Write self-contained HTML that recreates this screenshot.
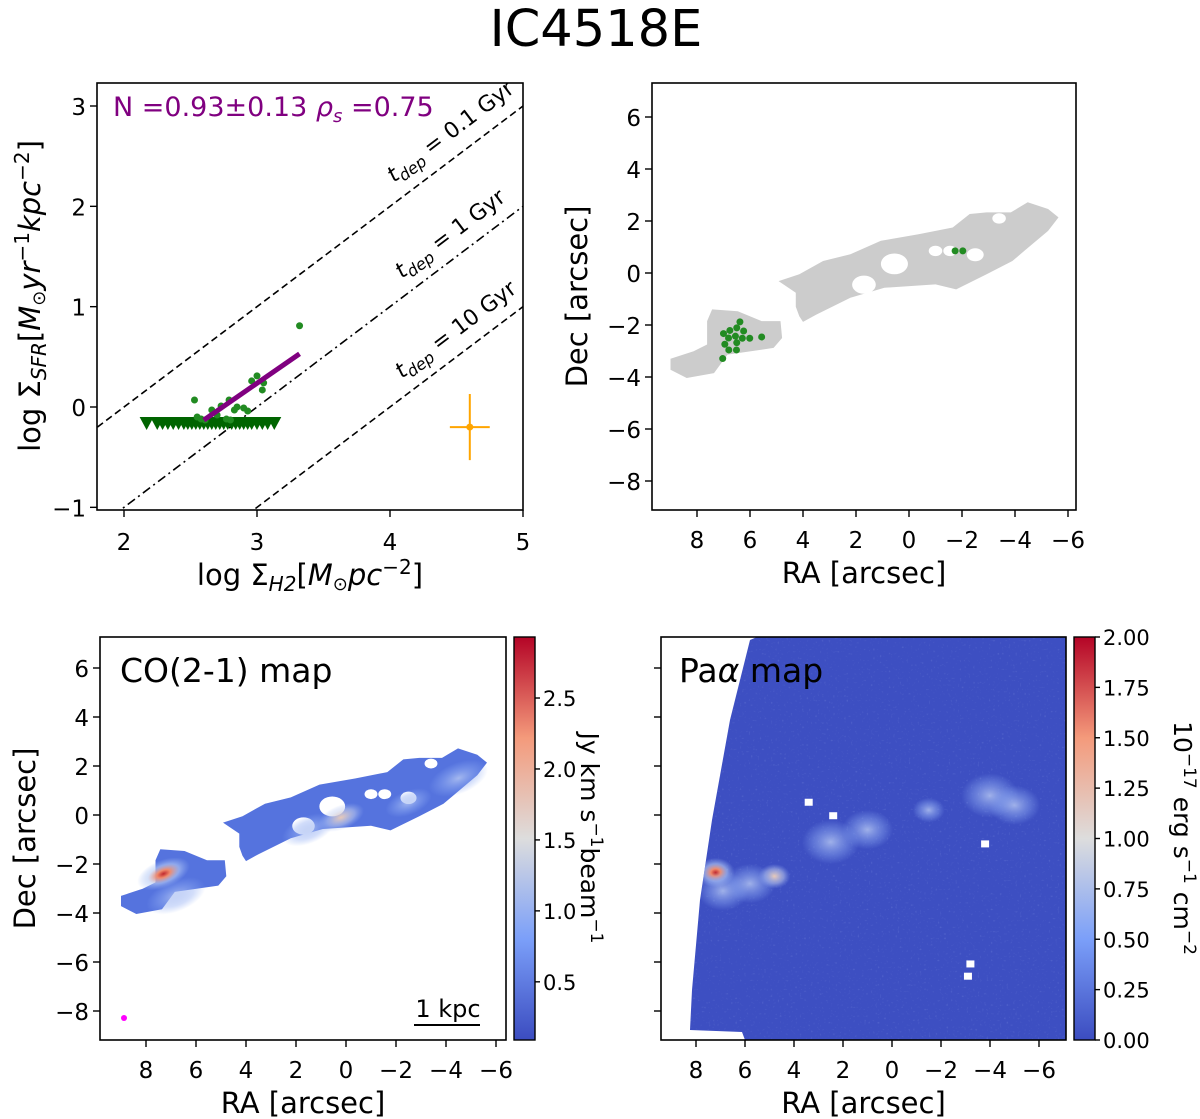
<!DOCTYPE html>
<html><head><meta charset="utf-8"><style>
html,body{margin:0;padding:0;background:#fff;}
svg{display:block;font-family:"DejaVu Sans","Liberation Sans",sans-serif;}
</style></head><body>
<svg id="fig" width="1200" height="1119" viewBox="0 0 1200 1119" xmlns="http://www.w3.org/2000/svg">
<defs>
<linearGradient id="cw" x1="0" y1="1" x2="0" y2="0">
<stop offset="0" stop-color="#3b4cc0"/><stop offset="0.25" stop-color="#7b9ff9"/><stop offset="0.5" stop-color="#dddddd"/><stop offset="0.75" stop-color="#f49a7b"/><stop offset="1" stop-color="#b40426"/>
</linearGradient>
<radialGradient id="hotspot"><stop offset="0" stop-color="#c0282d"/><stop offset="0.25" stop-color="#f08a6c"/><stop offset="0.6" stop-color="#b9cdf5" stop-opacity="0.6"/><stop offset="1" stop-color="#9bb7f5" stop-opacity="0"/></radialGradient>
<radialGradient id="light"><stop offset="0" stop-color="#b8c9f3" stop-opacity="0.8"/><stop offset="0.6" stop-color="#90acf3" stop-opacity="0.4"/><stop offset="1" stop-color="#8aa9f3" stop-opacity="0"/></radialGradient>
<radialGradient id="peach"><stop offset="0" stop-color="#e8c9b8"/><stop offset="0.6" stop-color="#c9d3ee" stop-opacity="0.5"/><stop offset="1" stop-color="#9bb4f3" stop-opacity="0"/></radialGradient>
<filter id="noise" x="0" y="0" width="100%" height="100%">
<feTurbulence type="fractalNoise" baseFrequency="0.45" numOctaves="1" seed="3" result="t"/>
<feColorMatrix type="matrix" values="0 0 0 0 0.5  0 0 0 0 0.6  0 0 0 0 0.95  0 0 0 1.2 -0.75" in="t"/>
</filter>
<clipPath id="clipKS"><rect x="97" y="83" width="426" height="427"/></clipPath>
<clipPath id="clipPa"><polygon points="757,637 1066,637 1066,1040 745,1040 742,1032 690,1030 692,990 700,900 712,820 730,720 750,640"/></clipPath>
</defs>
<text x="596" y="46" font-size="51" text-anchor="middle">IC4518E</text>
<g id="g1"></g>
<g id="g2"></g>
<g id="g3"></g>
<g id="g4"></g>
</svg>
<script>
// ---------- data ----------
const ksDetX = [3.32,2.53,3.00,2.96,3.05,3.04,2.79,2.73,2.66,2.83,2.90,2.93,2.55,2.77,2.61,2.85,2.70,2.58,2.80];
const ksDetY = [0.81,0.07,0.31,0.26,0.24,0.17,0.07,0.01,-0.03,-0.03,-0.01,-0.04,-0.10,-0.12,-0.13,0.00,-0.08,-0.12,-0.13];
const ksLimX = [2.17,2.25,2.29,2.33,2.37,2.41,2.45,2.48,2.51,2.54,2.57,2.60,2.63,2.66,2.69,2.72,2.75,2.78,2.81,2.84,2.87,2.90,2.93,2.96,3.00,3.04,3.08,3.13];
const ksLimY = -0.17;
const fitX = [2.6, 3.32];
const fitY = [-0.13, 0.53];
const tdepLabels = ["0.1 Gyr","1 Gyr","10 Gyr"];
const tdepOffsets = [-2, -3, -4];
const errPoint = [4.6, -0.2];
const errX = 0.15, errY = 0.33;
const ksXTicks = [2,3,4,5];
const ksYTicks = [-1,0,1,2,3];
const mapRaTicks = [8,6,4,2,0,-2,-4,-6];
const mapDecTicks = [6,4,2,0,-2,-4,-6,-8];
const pixRA = [6.38,7.0,6.76,6.5,6.24,6.81,6.55,6.29,6.01,5.56,6.95,6.5,6.8,6.51,7.03,-1.74,-2.03];
const pixDec = [-1.88,-2.33,-2.21,-2.11,-2.23,-2.5,-2.43,-2.51,-2.51,-2.46,-2.74,-2.68,-2.96,-2.96,-3.29,0.85,0.85];
const clumpRA = [9.0,9.0,8.39,7.36,6.85,5.11,4.79,4.85,5.56,6.46,7.43,7.62,7.62,8.13];
const clumpDec = [-3.3,-3.72,-4.04,-3.85,-3.14,-2.88,-2.5,-1.85,-1.85,-1.47,-1.4,-1.85,-2.75,-3.01];
const stripRA = [4.14,4.0,3.5,2.21,0.93,-1.0,-1.78,-2.93,-3.9,-4.35,-5.25,-5.64,-5.25,-4.48,-3.84,-2.93,-2.29,-1.65,-0.36,1.06,2.21,3.24,4.14,4.92,4.27,4.27];
const stripDec = [-1.66,-1.88,-1.6,-0.95,-0.57,-0.44,-0.63,-0.05,0.46,0.85,1.62,2.14,2.46,2.72,2.33,2.33,2.27,1.75,1.49,1.24,0.72,0.46,-0.05,-0.31,-0.76,-1.3];
const holeRA = [1.7,0.55,-1.0,-1.55,-3.4,-2.5];
const holeDec = [-0.45,0.35,0.85,0.85,2.1,0.7];
const holeR = [0.35,0.4,0.2,0.2,0.2,0.25];
const coSpotRA = [7.3,0.2,-4.5,1.5,-2.5,6.8];
const coSpotDec = [-2.4,-0.1,1.5,-0.6,0.5,-3.3];
const coSpotR = [0.8,0.7,0.9,0.8,0.7,0.9];
const coSpotKind = ["hotspot","peach","light","light","light","light"];
const coCbTicks = [0.5,1.0,1.5,2.0,2.5];
const coCbMin = 0.09, coCbMax = 2.93;
const paSpotRA = [7.2,6.9,4.8,5.8,1.0,-1.5,-4.0,-5.0,2.5];
const paSpotDec = [-2.35,-3.1,-2.5,-2.8,-0.6,0.2,0.8,0.4,-1.1];
const paSpotR = [0.6,0.8,0.5,0.8,0.8,0.5,0.9,0.8,0.9];
const paSpotKind = ["hotspot","light","peach","light","light","light","light","light","light"];
const paHoleRA = [3.4,2.4,-3.8,-3.2,-3.1];
const paHoleDec = [0.5,-0.05,-1.2,-6.1,-6.6];
const paCbTicks = [0.00,0.25,0.50,0.75,1.00,1.25,1.50,1.75,2.00];

// ---------- helpers ----------
const NS = "http://www.w3.org/2000/svg";
const TICK = 23, TITLE = 29;
function mk(parent, tag, attrs, text){
  const el = document.createElementNS(NS, tag);
  for (const k in attrs) el.setAttribute(k, attrs[k]);
  if (text !== undefined) el.textContent = text;
  parent.appendChild(el);
  return el;
}
function lin(d0,d1,p0,p1){ return v => p0 + (v-d0)*(p1-p0)/(d1-d0); }

// ---------- panel 1: KS ----------
const g1 = document.getElementById('g1');
const kx = lin(2,5,124,523), ky = lin(0,3,407,106);
const clipG = mk(g1,'g',{'clip-path':'url(#clipKS)'});


tdepOffsets.forEach((off,i)=>{
  const l = mk(clipG,'line',{x1:kx(1.8),y1:ky(1.8+off),x2:kx(5),y2:ky(5+off),stroke:'#000','stroke-width':1.6,'stroke-dasharray': i===1 ? '9,4,2,4' : '7,4'});
  
  
});
const ang = -Math.atan((ky(0)-ky(1))/(kx(1)-kx(0)))*180/Math.PI;
const lblPos = [[394,183],[402,279],[402,379]];
tdepLabels.forEach((t,i)=>{
  const tx = mk(clipG,'text',{x:lblPos[i][0],y:lblPos[i][1],'font-size':22,transform:`rotate(${ang} ${lblPos[i][0]} ${lblPos[i][1]})`});
  
  
  mk(tx,'tspan',{'font-style':'italic'},'t');
  mk(tx,'tspan',{'font-style':'italic','font-size':16,dy:5},'dep');
  mk(tx,'tspan',{dy:-5},' = '+t);
});
ksLimX.forEach(x=>{
  const X = kx(x), Y = ky(ksLimY);
  const p = mk(clipG,'path',{d:`M${X-7},${Y-7}L${X+7},${Y-7}L${X},${Y+6}Z`,fill:'#006400'});
  
  
});
ksDetX.forEach((x,i)=>{
  const c = mk(clipG,'circle',{cx:kx(x),cy:ky(ksDetY[i]),r:3.5,fill:'#228b22'});
  
  
});
const fit = mk(clipG,'line',{x1:kx(fitX[0]),y1:ky(fitY[0]),x2:kx(fitX[1]),y2:ky(fitY[1]),stroke:'#800080','stroke-width':5});


const eb = mk(clipG,'g',{stroke:'#ffa500','stroke-width':2});


mk(eb,'line',{x1:kx(errPoint[0]-errX),y1:ky(errPoint[1]),x2:kx(errPoint[0]+errX),y2:ky(errPoint[1])});
mk(eb,'line',{x1:kx(errPoint[0]),y1:ky(errPoint[1]-errY),x2:kx(errPoint[0]),y2:ky(errPoint[1]+errY)});
mk(eb,'circle',{cx:kx(errPoint[0]),cy:ky(errPoint[1]),r:3.5,fill:'#ffa500',stroke:'none'});
const nt = mk(g1,'text',{x:113,y:116,'font-size':27,fill:'#800080'});


mk(nt,'tspan',{},'N =0.93±0.13 ');
mk(nt,'tspan',{'font-style':'italic'},'ρ');
mk(nt,'tspan',{'font-style':'italic','font-size':18,dy:6},'s');
mk(nt,'tspan',{dy:-6},' =0.75');
const f1 = mk(g1,'rect',{x:97,y:83,width:426,height:427,fill:'none',stroke:'#000','stroke-width':1.6});


ksXTicks.forEach(v=>{
  mk(g1,'line',{x1:kx(v),y1:510,x2:kx(v),y2:517,stroke:'#000','stroke-width':1.4});
  const t = mk(g1,'text',{x:kx(v),y:550,'font-size':TICK,'text-anchor':'middle'},String(v));
  
  
});
ksYTicks.forEach(v=>{
  mk(g1,'line',{x1:90,y1:ky(v),x2:97,y2:ky(v),stroke:'#000','stroke-width':1.4});
  const t = mk(g1,'text',{x:86,y:ky(v)+9,'font-size':TICK,'text-anchor':'end'},v<0?'−'+(-v):String(v));
  
  
});
const xl = mk(g1,'text',{x:310,y:585,'font-size':TITLE,'text-anchor':'middle'});


mk(xl,'tspan',{},'log Σ');
mk(xl,'tspan',{'font-style':'italic','font-size':20,dy:6},'H2');
mk(xl,'tspan',{dy:-6},'[');
mk(xl,'tspan',{'font-style':'italic'},'M');
mk(xl,'tspan',{'font-size':18,dy:5},'⊙');
mk(xl,'tspan',{'font-style':'italic',dy:-5},'pc');
mk(xl,'tspan',{'font-size':20,dy:-11},'−2');
mk(xl,'tspan',{dy:11},']');
const yl = mk(g1,'text',{x:0,y:0,'font-size':TITLE,'text-anchor':'middle',transform:'translate(40 296) rotate(-90)'});


mk(yl,'tspan',{},'log Σ');
mk(yl,'tspan',{'font-style':'italic','font-size':20,dy:6},'SFR');
mk(yl,'tspan',{dy:-6},'[');
mk(yl,'tspan',{'font-style':'italic'},'M');
mk(yl,'tspan',{'font-size':18,dy:5},'⊙');
mk(yl,'tspan',{'font-style':'italic',dy:-5},'yr');
mk(yl,'tspan',{'font-size':20,dy:-11},'−1');
mk(yl,'tspan',{'font-style':'italic',dy:11},'kpc');
mk(yl,'tspan',{'font-size':20,dy:-11},'−2');
mk(yl,'tspan',{dy:11},']');

// ---------- map axes helper ----------
function mapAxes(g, L, T, W, H, ax, ay, showY, name){
  const f = mk(g,'rect',{x:L,y:T,width:W,height:H,fill:'none',stroke:'#000','stroke-width':1.6});
  
  
  mapRaTicks.forEach(v=>{
    mk(g,'line',{x1:ax(v),y1:T+H,x2:ax(v),y2:T+H+7,stroke:'#000','stroke-width':1.4});
    const t = mk(g,'text',{x:ax(v),y:T+H+38,'font-size':TICK,'text-anchor':'middle'},v<0?'−'+(-v):String(v));
    
    
  });
  mapDecTicks.forEach(v=>{
    mk(g,'line',{x1:L-7,y1:ay(v),x2:L,y2:ay(v),stroke:'#000','stroke-width':1.4});
    if(showY){
      const t = mk(g,'text',{x:L-11,y:ay(v)+9,'font-size':TICK,'text-anchor':'end'},v<0?'−'+(-v):String(v));
      
      
    }
  });
  const xt = mk(g,'text',{x:L+W/2,y:T+H+73,'font-size':TITLE,'text-anchor':'middle'},'RA [arcsec]');
  
  
  if(showY){
    const yt = mk(g,'text',{x:0,y:0,'font-size':TITLE,'text-anchor':'middle',transform:`translate(${L-65} ${T+H/2}) rotate(-90)`},'Dec [arcsec]');
    
    
  }
}
function poly(g, ax, ay, ra, dec, fill, name){
  const pts = ra.map((r,i)=>ax(r).toFixed(1)+','+ay(dec[i]).toFixed(1)).join(' ');
  const p = mk(g,'polygon',{points:pts,fill:fill});
  
  
}
function holes(g, ax, ay, scale){
  holeRA.forEach((r,i)=>{
    const e = mk(g,'ellipse',{cx:ax(r),cy:ay(holeDec[i]),rx:holeR[i]*scale*1.3,ry:holeR[i]*scale,fill:'#fff'});
    
    
  });
}

// ---------- panel 2: mask ----------
const g2 = document.getElementById('g2');
const mx = lin(0,-2,909,962), my = lin(0,2,273,221);
poly(g2,mx,my,clumpRA,clumpDec,'#cccccc','mask-clump');
poly(g2,mx,my,stripRA,stripDec,'#cccccc','mask-strip');
holes(g2,mx,my,26);
pixRA.forEach((r,i)=>{
  const c = mk(g2,'circle',{cx:mx(r),cy:my(pixDec[i]),r:3.5,fill:'#228b22'});
  
  
});
mapAxes(g2,652,83,424,427,mx,my,true,'mask');

// ---------- panel 3: CO ----------
const g3 = document.getElementById('g3');
const cx = lin(0,-2,346,396), cy = lin(0,2,815,766);
poly(g3,cx,cy,clumpRA,clumpDec,'#5573de','co-clump');
poly(g3,cx,cy,stripRA,stripDec,'#5573de','co-strip');
holes(g3,cx,cy,24.8);
coSpotRA.forEach((r,i)=>{
  const e = mk(g3,'ellipse',{cx:cx(r),cy:cy(coSpotDec[i]),rx:coSpotR[i]*24.8*1.4,ry:coSpotR[i]*24.8*0.7,fill:`url(#${coSpotKind[i]})`,transform:`rotate(-22 ${cx(r)} ${cy(coSpotDec[i])})`});
  
  
});
const ct = mk(g3,'text',{x:120,y:682,'font-size':33},'CO(2-1) map');


const sb = mk(g3,'text',{x:448,y:1017,'font-size':24,'text-anchor':'middle'},'1 kpc');


const sbl = mk(g3,'line',{x1:414,y1:1025,x2:480,y2:1025,stroke:'#000','stroke-width':2});


const beam = mk(g3,'circle',{cx:124,cy:1018,r:3,fill:'#ff00ff'});


mapAxes(g3,100,637,406,403,cx,cy,true,'co');
const cb1 = mk(g3,'rect',{x:514,y:637,width:21,height:403,fill:'url(#cw)',stroke:'#000','stroke-width':1.4});


const cb1y = lin(coCbMin,coCbMax,1040,637);
coCbTicks.forEach(v=>{
  mk(g3,'line',{x1:535,y1:cb1y(v),x2:540,y2:cb1y(v),stroke:'#000','stroke-width':1.4});
  const t = mk(g3,'text',{x:543,y:cb1y(v)+8,'font-size':21},v.toFixed(1));
  
  
});
const cbl1 = mk(g3,'text',{x:0,y:0,'font-size':25,'text-anchor':'middle',transform:'translate(581 838) rotate(90)'});


mk(cbl1,'tspan',{},'Jy km s');
mk(cbl1,'tspan',{'font-size':17,dy:-10},'−1');
mk(cbl1,'tspan',{dy:10},'beam');
mk(cbl1,'tspan',{'font-size':17,dy:-10},'−1');

// ---------- panel 4: Pa alpha ----------
const g4 = document.getElementById('g4');
const px = lin(0,-2,892,941), py = lin(0,2,815,766);
const pa = mk(g4,'g',{'clip-path':'url(#clipPa)'});


const bg = mk(pa,'rect',{x:661,y:637,width:405,height:403,fill:'#3d4fc2'});


const nz = mk(pa,'rect',{x:661,y:637,width:405,height:403,filter:'url(#noise)',opacity:0.6});


paSpotRA.forEach((r,i)=>{
  const e = mk(pa,'ellipse',{cx:px(r),cy:py(paSpotDec[i]),rx:paSpotR[i]*24.6*1.3,ry:paSpotR[i]*24.6,fill:`url(#${paSpotKind[i]})`});
  
  
});
paHoleRA.forEach((r,i)=>{
  const h = mk(pa,'rect',{x:px(r)-4,y:py(paHoleDec[i])-4,width:8,height:7,fill:'#fff'});
  
  
});
const pt = mk(g4,'text',{x:679,y:682,'font-size':33});


mk(pt,'tspan',{},'Pa');
mk(pt,'tspan',{'font-style':'italic'},'α');
mk(pt,'tspan',{},' map');
mapAxes(g4,661,637,405,403,px,py,false,'paa');
const cb2 = mk(g4,'rect',{x:1074,y:637,width:21,height:403,fill:'url(#cw)',stroke:'#000','stroke-width':1.4});


const cb2y = lin(0,2,1040,637);
paCbTicks.forEach(v=>{
  mk(g4,'line',{x1:1095,y1:cb2y(v),x2:1100,y2:cb2y(v),stroke:'#000','stroke-width':1.4});
  const t = mk(g4,'text',{x:1103,y:cb2y(v)+8,'font-size':21},v.toFixed(2));
  
  
});
const cbl2 = mk(g4,'text',{x:0,y:0,'font-size':25,'text-anchor':'middle',transform:'translate(1174 838) rotate(90)'});


mk(cbl2,'tspan',{},'10');
mk(cbl2,'tspan',{'font-size':17,dy:-10},'−17');
mk(cbl2,'tspan',{dy:10},' erg s');
mk(cbl2,'tspan',{'font-size':17,dy:-10},'−1');
mk(cbl2,'tspan',{dy:10},' cm');
mk(cbl2,'tspan',{'font-size':17,dy:-10},'−2');
</script>
</body></html>
